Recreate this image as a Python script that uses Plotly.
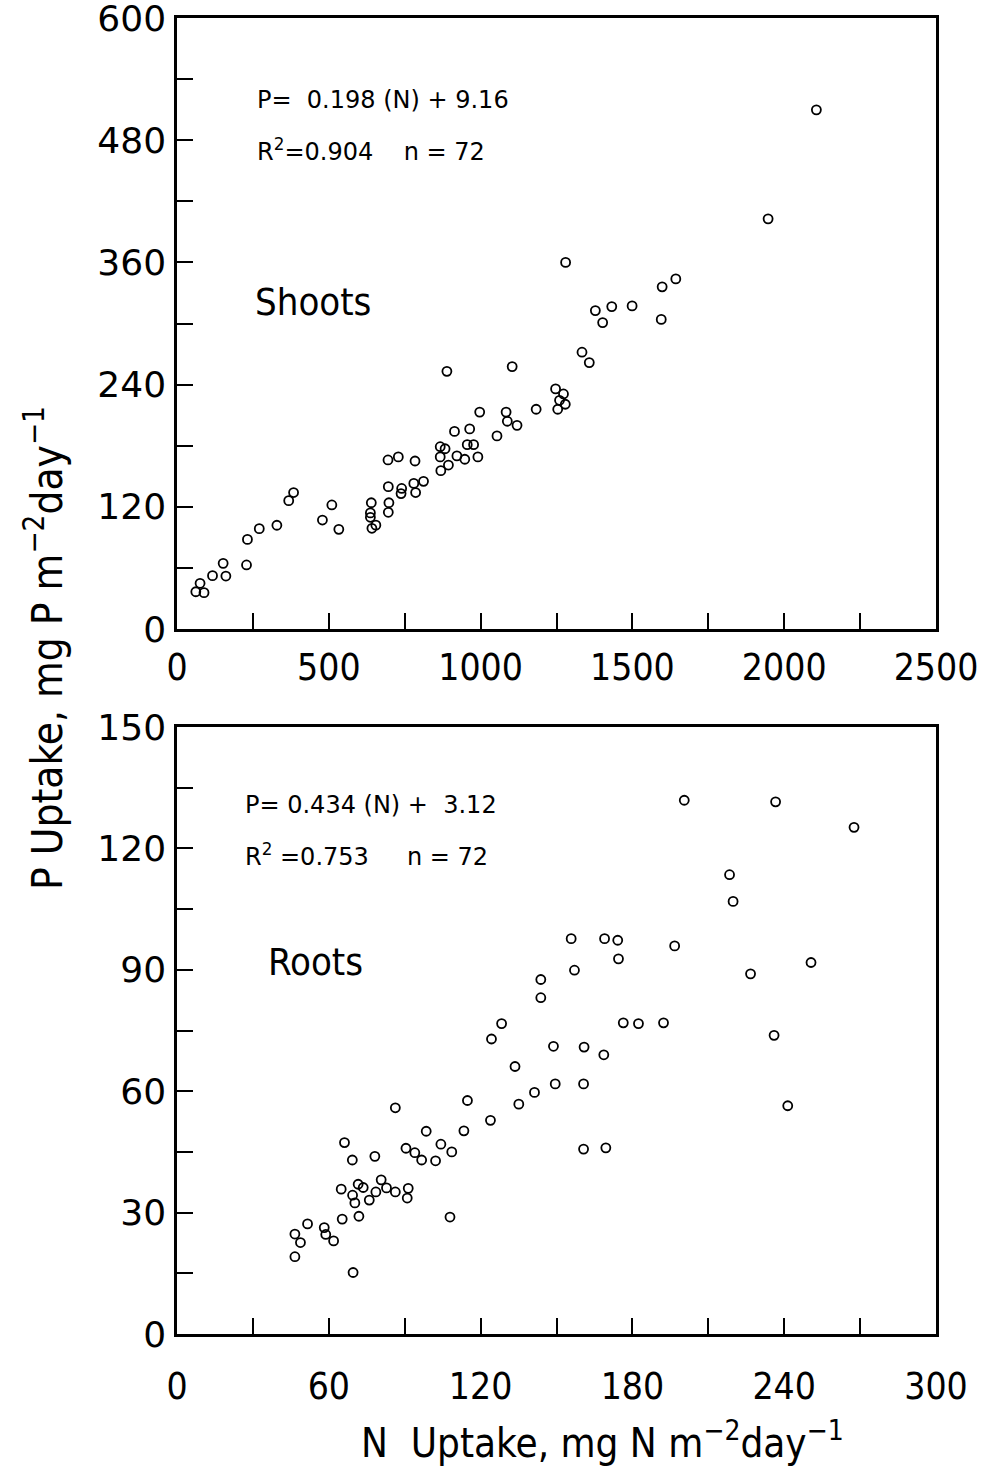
import plotly.graph_objects as go

# ---------------- data ----------------
shoots_n = [62, 76, 89, 117, 152, 161, 229, 232, 271, 329, 368, 384, 479, 510, 533,
            640, 637, 637, 642, 655, 695, 729, 696, 698, 696, 740, 738, 784, 780, 786,
            812, 889, 867, 883, 867, 894, 869, 914, 922, 948, 964, 956, 977, 991, 997,
            1054, 1084, 1088, 1120, 1104, 1183, 1247, 1273, 1260, 1279, 1254, 1280, 1334,
            1358, 1378, 1402, 1432, 1499, 1598, 1643, 1595, 2106, 1947]
shoots_p = [36.6, 44.9, 35.7, 52.4, 64.5, 52, 62.9, 88, 98.5, 101.9, 126, 134, 107, 121.8,
            97.9, 124, 114, 109.7, 98.9, 102, 166, 169, 139.8, 124, 114.6, 138, 133, 165,
            143, 134, 145, 253, 179, 177, 169, 161, 155.5, 194, 170, 166.7, 196.5, 181, 181,
            169, 213, 189.6, 213, 204, 200, 257.7, 215.8, 235.8, 230.8, 224.6, 220.7, 215.8,
            360, 271.8, 261.6, 312.7, 300.9, 316.6, 317.3, 336, 343.8, 304, 509.8, 402.8]

roots_n = [46.6, 48.8, 46.6, 51.6, 58.2, 58.8, 61.9, 65.3, 64.9, 66.2, 69.3, 69.6, 69.4,
           70.3, 71.6, 71.9, 73.6, 76.0, 78.2, 78.6, 80.7, 82.8, 86.3, 86.3, 90.5, 91.4,
           91.0, 94.0, 96.7, 98.5, 102.2, 104.3, 108.6, 107.9, 113.4, 114.8, 123.9, 133.6,
           135.1, 141.3, 149.5, 160.7, 160.7, 169.5, 241.4, 200.5, 236.6, 267.6, 218.4,
           219.8, 155.8, 169.0, 174.2, 174.5, 157.1, 196.7, 250.6, 226.7, 176.4, 182.4,
           192.3, 160.9, 168.7, 236.0, 143.8, 143.8, 128.3, 124.3, 148.8]
roots_p = [24.7, 22.6, 19.1, 27.2, 26.3, 24.6, 23.0, 28.4, 35.8, 47.3, 43.0, 15.2, 34.3,
           32.4, 37.0, 29.1, 36.2, 33.1, 43.9, 35.1, 38.1, 36.1, 35.1, 55.9, 45.9, 36.0,
           33.6, 44.8, 43.0, 50.1, 42.8, 46.9, 45.0, 28.9, 50.2, 57.7, 52.8, 66.1, 56.8,
           59.7, 61.8, 61.8, 45.7, 46.0, 56.4, 131.9, 131.5, 125.2, 113.5, 106.9, 97.7,
           97.7, 97.3, 92.7, 89.9, 95.9, 91.8, 89.0, 76.9, 76.7, 76.9, 70.9, 69.0, 73.8,
           87.6, 83.1, 76.7, 72.9, 71.1]

top_x_ticks = [0, 500, 1000, 1500, 2000, 2500]
top_y_ticks = [0, 120, 240, 360, 480, 600]
bot_x_ticks = [0, 60, 120, 180, 240, 300]
bot_y_ticks = [0, 30, 60, 90, 120, 150]

# ---------------- figure ----------------
W, H = 998, 1469
NARROW = "Liberation Sans Narrow, DejaVu Sans Condensed, Roboto Condensed, Arial Narrow, DejaVu Sans, sans-serif"
WIDE = "DejaVu Sans, Verdana, sans-serif"


def px(x):
    return x / W


def py(y):
    return 1 - y / H


fig = go.Figure()
marker = dict(symbol="circle-open", size=9, color="black", line=dict(width=1.8, color="black"))
fig.add_trace(go.Scatter(x=shoots_n, y=shoots_p, mode="markers", marker=marker,
                         xaxis="x", yaxis="y", showlegend=False))
fig.add_trace(go.Scatter(x=roots_n, y=roots_p, mode="markers", marker=marker,
                         xaxis="x2", yaxis="y2", showlegend=False))

xdom = [px(177), px(936)]
top_dom = [py(629), py(18)]
bot_dom = [py(1334), py(727)]

common_axis = dict(showgrid=False, zeroline=False, showline=True, linecolor="black",
                   linewidth=2.5, mirror=True, ticks="inside", tickcolor="black",
                   tickwidth=2, ticklen=16, automargin=False, ticklabeloverflow="allow")


def minor(d):
    return dict(dtick=d, tick0=0, ticks="inside", ticklen=16, tickwidth=2, tickcolor="black")


fig.update_layout(
    width=W, height=H, margin=dict(l=0, r=0, t=0, b=0),
    paper_bgcolor="white", plot_bgcolor="white",
    xaxis=dict(**common_axis, domain=xdom, anchor="y", range=[0, 2500],
               tickvals=top_x_ticks, ticktext=[str(v) for v in top_x_ticks], minor=minor(250),
               tickfont=dict(family=NARROW, size=37, color="black"), ticklabelstandoff=4),
    yaxis=dict(**common_axis, domain=top_dom, anchor="x", range=[0, 600],
               tickvals=top_y_ticks, ticktext=[str(v) for v in top_y_ticks], minor=minor(60),
               tickfont=dict(family=WIDE, size=36, color="black"), ticklabelstandoff=1),
    xaxis2=dict(**common_axis, domain=xdom, anchor="y2", range=[0, 300],
                tickvals=bot_x_ticks, ticktext=[str(v) for v in bot_x_ticks], minor=minor(30),
                tickfont=dict(family=NARROW, size=37, color="black"), ticklabelstandoff=18),
    yaxis2=dict(**common_axis, domain=bot_dom, anchor="x2", range=[0, 150],
                tickvals=bot_y_ticks, ticktext=[str(v) for v in bot_y_ticks], minor=minor(15),
                tickfont=dict(family=WIDE, size=36, color="black"), ticklabelstandoff=1),
)

eq_font = dict(family=WIDE, size=24, color="black")
lab_font = dict(family=NARROW, size=38, color="black")
annos = [
    dict(text="P=  0.198 (N) + 9.16", x=px(255), y=py(100), font=eq_font),
    dict(text="R<sup>2</sup>=0.904    n = 72", x=px(255), y=py(150), font=eq_font),
    dict(text="Shoots", x=px(253), y=py(302), font=lab_font),
    dict(text="P= 0.434 (N) +  3.12", x=px(243), y=py(805), font=eq_font),
    dict(text="R<sup>2</sup> =0.753     n = 72", x=px(243), y=py(855), font=eq_font),
    dict(text="Roots", x=px(266), y=py(962), font=lab_font),
]
for a in annos:
    fig.add_annotation(xref="paper", yref="paper", xanchor="left", yanchor="middle",
                       showarrow=False, **a)

fig.add_annotation(xref="paper", yref="paper", x=px(45), y=py(648),
                   text="P Uptake, mg P m<sup>\u22122</sup>day<sup>\u22121</sup>",
                   textangle=-90, showarrow=False, xanchor="center", yanchor="middle",
                   font=dict(family=NARROW, size=42, color="black"))
fig.add_annotation(xref="paper", yref="paper", x=px(602), y=py(1440),
                   text="N  Uptake, mg N m<sup>\u22122</sup>day<sup>\u22121</sup>",
                   showarrow=False, xanchor="center", yanchor="middle",
                   font=dict(family=NARROW, size=40, color="black"))

fig.write_html("out.html", config={"displayModeBar": False},
               post_script="document.body.style.margin='0';document.body.style.overflow='hidden';")
